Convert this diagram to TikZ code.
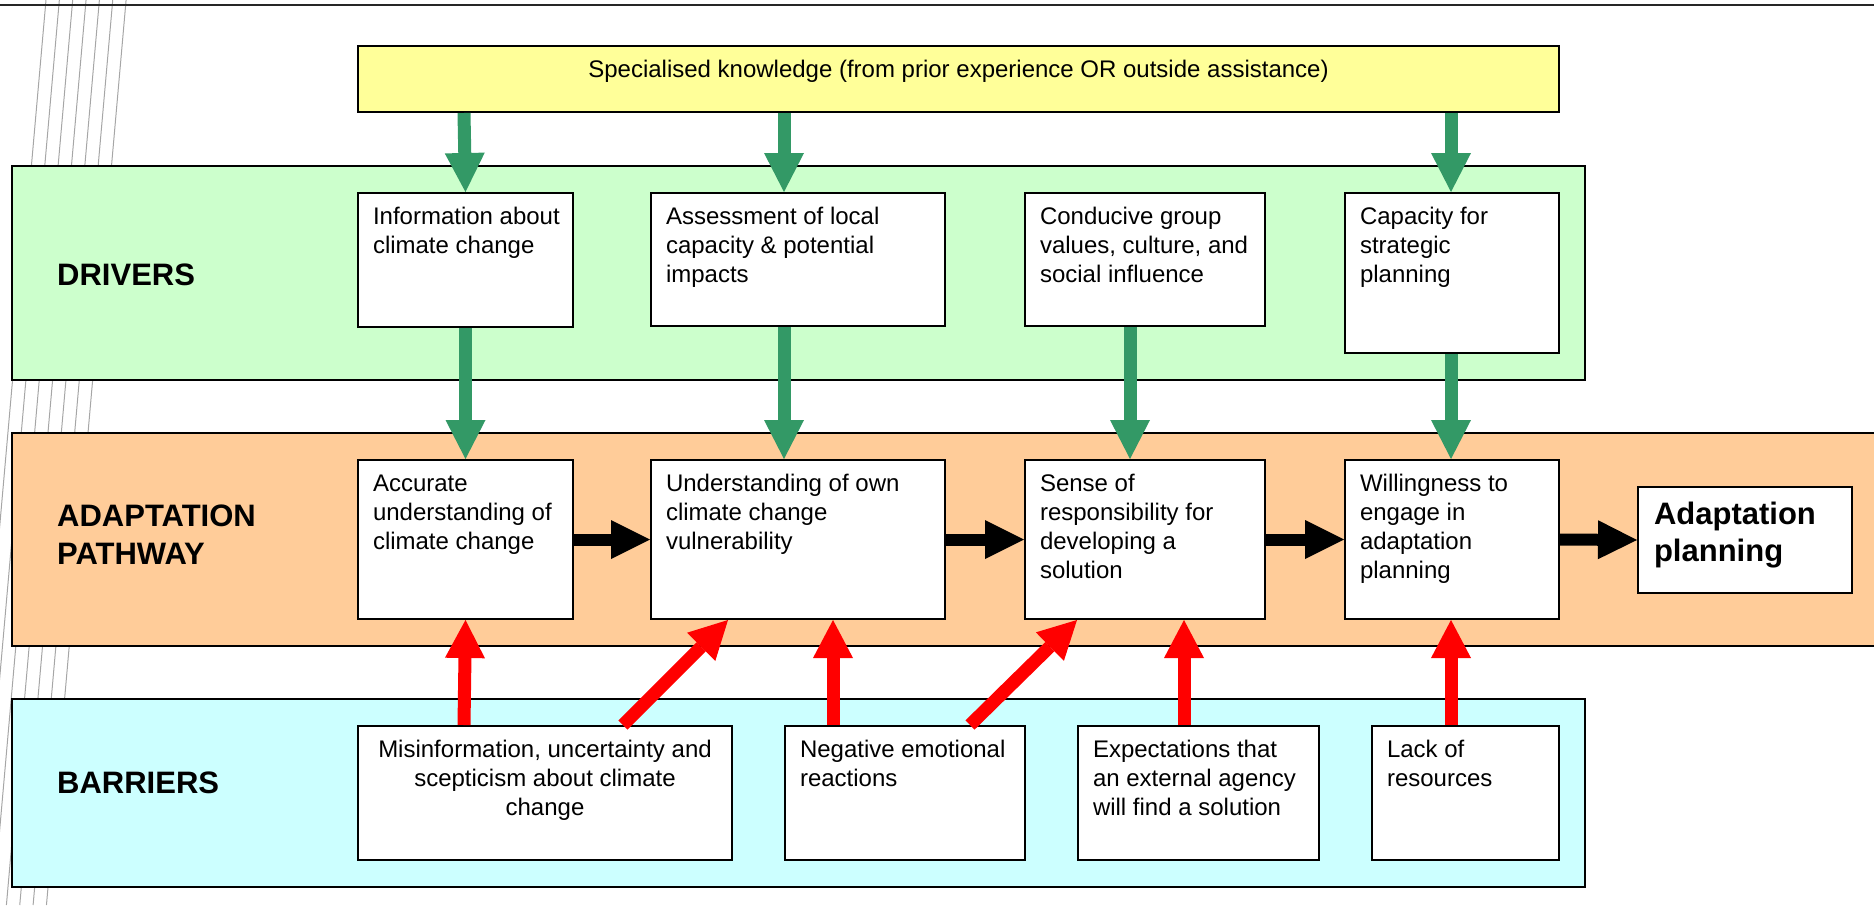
\documentclass[tikz,border=0pt]{standalone}
\usepackage{fontspec}
\setmainfont{Liberation Sans}
\usetikzlibrary{arrows.meta}
\definecolor{arrgreen}{HTML}{339966}
\definecolor{bandgreen}{HTML}{CCFFCC}
\definecolor{bandorange}{HTML}{FFCC99}
\definecolor{bandblue}{HTML}{CCFFFF}
\definecolor{boxyellow}{HTML}{FFFF99}
\definecolor{decogray}{HTML}{A6A6A6}
% left-aligned text in a box of given width/height, first baseline 31pt below top
\newcommand{\boxtxt}[3]{\parbox[t][#2][t]{#1}{\raggedright\leftskip=15pt\relax\rule{0pt}{31pt}#3}}
\newcommand{\boxtxtc}[3]{\parbox[t][#2][t]{#1}{\centering\rule{0pt}{31pt}#3}}
\tikzset{
  band/.style={draw, line width=2pt, anchor=north west, inner sep=0pt},
  bx/.style={draw, line width=2pt, fill=white, anchor=north west, inner sep=0pt,
             font=\fontsize{24}{29}\selectfont},
  lbl/.style={anchor=base west, inner sep=0pt, font=\fontsize{31}{38}\selectfont\bfseries},
  deco/.style={draw=decogray, line width=1pt},
  garr/.style={draw=arrgreen, line width=13pt, -{Triangle[width=40pt,length=39pt,line width=0pt]}},
  rarr/.style={draw=red, line width=13pt, -{Triangle[width=40pt,length=38pt,line width=0pt]}},
  karr/.style={draw=black, line width=12pt, -{Triangle[width=39pt,length=39pt,line width=0pt]}},
}
\begin{document}
\begin{tikzpicture}[x=1pt,y=-1pt]
\useasboundingbox (0,0) rectangle (1874,905);
% decorative slanted lines
\foreach \i in {0,...,6}
  \draw[deco] ({46+13.35*\i},0) -- ({46+13.35*\i-0.088*905},905);
% top rule
\draw[line width=2pt, black!85] (0,5) -- (1874,5);

% bands
\node[band, fill=bandgreen, minimum width=1573pt, minimum height=214pt] (G) at (11,165) {};
\node[band, fill=bandorange, minimum width=1868pt, minimum height=213pt] (O) at (11,432) {};
\node[band, fill=bandblue, minimum width=1573pt, minimum height=188pt] (Bl) at (11,698) {};

% band labels
\node[lbl] (Ldrv) at (57,285) {DRIVERS};
\node[lbl] (Lpath) at (57,526) {\parbox[t]{300pt}{ADAPTATION\\PATHWAY}};
\node[lbl] (Lbar) at (57,793) {BARRIERS};

% top yellow box
\node[bx, fill=boxyellow] (Y) at (357,45) {\boxtxtc{1201pt}{66pt}{Specialised knowledge (from prior experience OR outside assistance)}};

% drivers
\node[bx] (D1) at (357,192) {\boxtxt{215pt}{134pt}{Information about\\climate change}};
\node[bx] (D2) at (650,192) {\boxtxt{294pt}{133pt}{Assessment of local\\capacity \& potential\\impacts}};
\node[bx] (D3) at (1024,192) {\boxtxt{240pt}{133pt}{Conducive group\\values, culture, and\\social influence}};
\node[bx] (D4) at (1344,192) {\boxtxt{214pt}{160pt}{Capacity for\\strategic\\planning}};

% pathway
\node[bx] (P1) at (357,459) {\boxtxt{215pt}{159pt}{Accurate\\understanding of\\climate change}};
\node[bx] (P2) at (650,459) {\boxtxt{294pt}{159pt}{Understanding of own\\climate change\\vulnerability}};
\node[bx] (P3) at (1024,459) {\boxtxt{240pt}{159pt}{Sense of\\responsibility for\\developing a\\solution}};
\node[bx] (P4) at (1344,459) {\boxtxt{214pt}{159pt}{Willingness to\\engage in\\adaptation\\planning}};
\node[bx, font=\fontsize{31}{37}\selectfont\bfseries] (AP) at (1637,486)
  {\parbox[t][106pt][t]{214pt}{\raggedright\leftskip=16pt\relax\rule{0pt}{37pt}Adaptation\\planning}};

% barriers
\node[bx] (B1) at (357,725) {\boxtxtc{374pt}{134pt}{Misinformation, uncertainty and\\scepticism about climate\\change}};
\node[bx] (B2) at (784,725) {\boxtxt{240pt}{134pt}{Negative emotional\\reactions}};
\node[bx] (B3) at (1077,725) {\boxtxt{241pt}{134pt}{Expectations that\\an external agency\\will find a solution}};
\node[bx] (B4) at (1371,725) {\boxtxt{187pt}{134pt}{Lack of\\resources}};

% green arrows: knowledge -> drivers
\draw[garr] ([xshift=107pt]Y.south west) -- (D1.north);
\draw[garr] ([xshift=427pt]Y.south west) -- ([xshift=134pt]D2.north west);
\draw[garr] ([xshift=1094pt]Y.south west) -- ([xshift=107pt]D4.north west);
% green arrows: drivers -> pathway
\draw[garr] (D1.south) -- (P1.north);
\draw[garr] ([xshift=134pt]D2.south west) -- ([xshift=134pt]P2.north west);
\draw[garr] ([xshift=106pt]D3.south west) -- ([xshift=106pt]P3.north west);
\draw[garr] ([xshift=107pt]D4.south west) -- ([xshift=107pt]P4.north west);

% black pathway arrows
\draw[karr] (P1.east) -- (P2.west);
\draw[karr] (P2.east) -- (P3.west);
\draw[karr] (P3.east) -- (P4.west);
\draw[karr] (P4.east) -- (AP.west);

% red barrier arrows
\draw[rarr] ([xshift=107pt]B1.north west) -- (P1.south);
\draw[rarr] ([xshift=266pt]B1.north west) -- ([xshift=78pt]P2.south west);
\draw[rarr] ([xshift=49pt]B2.north west) -- ([xshift=183pt]P2.south west);
\draw[rarr] ([xshift=186pt]B2.north west) -- ([xshift=53pt]P3.south west);
\draw[rarr] ([xshift=107pt]B3.north west) -- ([xshift=160pt]P3.south west);
\draw[rarr] ([xshift=80pt]B4.north west) -- ([xshift=107pt]P4.south west);
\end{tikzpicture}
\end{document}
